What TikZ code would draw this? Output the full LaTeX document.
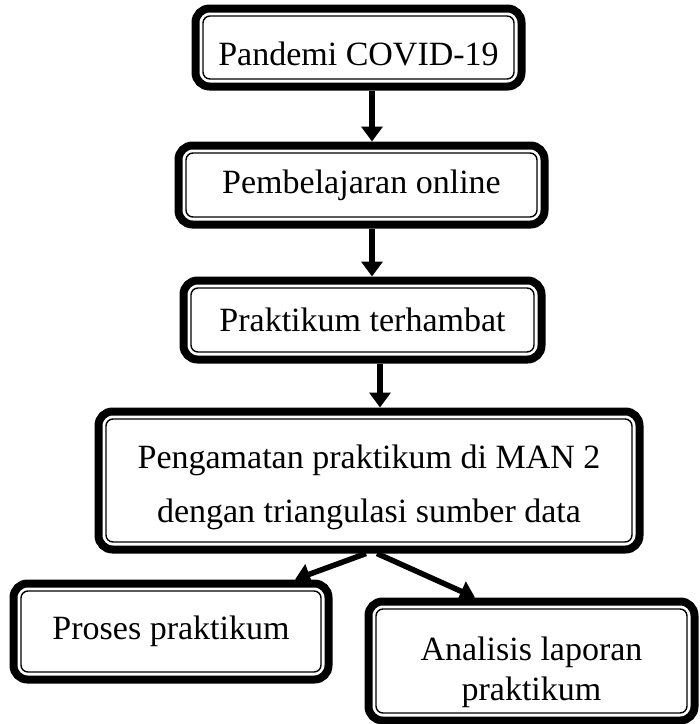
\documentclass[tikz,border=0pt]{standalone}
\usepackage{fontspec}
\setmainfont{Liberation Serif}
\usetikzlibrary{arrows.meta}

\tikzset{
  frame/.style={draw, line width=8pt, rounded corners=14pt, align=center, inner sep=0pt,
    font=\fontsize{34}{40}\selectfont},
  innerframe/.style={draw, line width=1.4pt, rounded corners=7pt},
  arr/.style={-{Triangle[width=21pt,length=15pt]}, line width=5.5pt}
}

\begin{document}
\begin{tikzpicture}[x=1pt, y=-1pt, node distance=135pt]

    \useasboundingbox (0,0) rectangle (700,724);

    % Chain of boxes
    \node (pan) [frame, minimum width=326pt, minimum height=78pt, text height=35pt, text depth=0pt] at (358.5,47.5) {Pandemi COVID-19};
    \node (pem) [frame, minimum width=366pt, minimum height=79pt, below of=pan, xshift=3pt, yshift=-2.5pt] {Pembelajaran online};
    \node (pra) [frame, minimum width=358pt, minimum height=79pt, below of=pem, xshift=1pt] {Praktikum terhambat};
    \draw[arr] ([xshift=13.5pt]pan.south) -- ([xshift=10.5pt]pem.north);
    \draw[arr] ([xshift=10.5pt]pem.south) -- ([xshift=9.5pt]pra.north);

    % Observation box
    \node (pen) [frame, minimum width=541pt, minimum height=138pt, font=\fontsize{34}{54}\selectfont, text height=91pt, below of=pra, xshift=6.5pt, yshift=-25.5pt] {Pengamatan praktikum di MAN 2\\dengan triangulasi sumber data};
    \draw[arr] ([xshift=17.5pt]pra.south) -- ([xshift=11pt]pen.north);

    % Two outcomes
    \node (pro) [frame, minimum width=315pt, minimum height=96pt, below of=pen, xshift=-198pt, yshift=-16pt] {Proses praktikum};
    \node (ana) [frame, minimum width=326pt, minimum height=119pt, text height=87pt, below of=pen, xshift=162.5pt, yshift=-45.5pt] {Analisis laporan\\praktikum};
    \draw[arr] ([xshift=-3pt]pen.south) -- ([xshift=124pt]pro.north);
    \draw[arr] ([xshift=8pt]pen.south) -- ([xshift=-56.5pt]ana.north);

    % Thin inner border of every box
    \foreach \n in {pan,pem,pra,pen,pro,ana}
        \draw[innerframe] ([shift={(11.5pt,11.5pt)}]\n.south west) rectangle ([shift={(-11.5pt,-11.5pt)}]\n.north east);

\end{tikzpicture}
\end{document}
